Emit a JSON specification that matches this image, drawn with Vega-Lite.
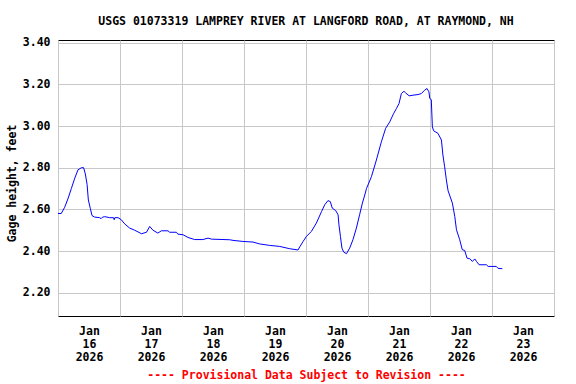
{
  "$schema": "https://vega.github.io/schema/vega-lite/v6.json",
  "width": 496,
  "height": 276,
  "autosize": "none",
  "padding": {"left": 58, "top": 40, "right": 22, "bottom": 68},
  "background": "white",
  "title": {
    "text": "USGS 01073319 LAMPREY RIVER AT LANGFORD ROAD, AT RAYMOND, NH",
    "font": "DejaVu Sans Mono",
    "fontSize": 11.5,
    "fontWeight": "bold",
    "color": "black",
    "anchor": "middle",
    "baseline": "bottom",
    "offset": 13,
    "dy": 15
  },
  "data": {
    "values": [
      {"t": "2026-01-16T00:00", "h": 2.58},
      {"t": "2026-01-16T01:15", "h": 2.58},
      {"t": "2026-01-16T02:35", "h": 2.61},
      {"t": "2026-01-16T03:50", "h": 2.65},
      {"t": "2026-01-16T05:10", "h": 2.70},
      {"t": "2026-01-16T06:30", "h": 2.75},
      {"t": "2026-01-16T07:45", "h": 2.79},
      {"t": "2026-01-16T09:05", "h": 2.80},
      {"t": "2026-01-16T09:55", "h": 2.80},
      {"t": "2026-01-16T10:35", "h": 2.77},
      {"t": "2026-01-16T11:15", "h": 2.72},
      {"t": "2026-01-16T11:45", "h": 2.645},
      {"t": "2026-01-16T12:30", "h": 2.605},
      {"t": "2026-01-16T13:10", "h": 2.57},
      {"t": "2026-01-16T14:10", "h": 2.563},
      {"t": "2026-01-16T16:10", "h": 2.56},
      {"t": "2026-01-16T16:40", "h": 2.555},
      {"t": "2026-01-16T17:10", "h": 2.562},
      {"t": "2026-01-16T18:05", "h": 2.565},
      {"t": "2026-01-16T20:00", "h": 2.56},
      {"t": "2026-01-16T21:30", "h": 2.56},
      {"t": "2026-01-16T21:45", "h": 2.55},
      {"t": "2026-01-16T22:00", "h": 2.56},
      {"t": "2026-01-16T23:15", "h": 2.56},
      {"t": "2026-01-17T00:30", "h": 2.55},
      {"t": "2026-01-17T01:50", "h": 2.53},
      {"t": "2026-01-17T03:45", "h": 2.51},
      {"t": "2026-01-17T05:40", "h": 2.50},
      {"t": "2026-01-17T08:20", "h": 2.483},
      {"t": "2026-01-17T10:15", "h": 2.49},
      {"t": "2026-01-17T11:30", "h": 2.518},
      {"t": "2026-01-17T12:45", "h": 2.50},
      {"t": "2026-01-17T14:40", "h": 2.486},
      {"t": "2026-01-17T16:00", "h": 2.497},
      {"t": "2026-01-17T18:35", "h": 2.497},
      {"t": "2026-01-17T19:15", "h": 2.49},
      {"t": "2026-01-17T21:50", "h": 2.49},
      {"t": "2026-01-17T22:25", "h": 2.481},
      {"t": "2026-01-18T00:25", "h": 2.478},
      {"t": "2026-01-18T02:20", "h": 2.465},
      {"t": "2026-01-18T04:55", "h": 2.455},
      {"t": "2026-01-18T08:05", "h": 2.455},
      {"t": "2026-01-18T10:05", "h": 2.462},
      {"t": "2026-01-18T11:25", "h": 2.457},
      {"t": "2026-01-18T18:30", "h": 2.454},
      {"t": "2026-01-18T19:45", "h": 2.451},
      {"t": "2026-01-18T23:35", "h": 2.446},
      {"t": "2026-01-19T03:30", "h": 2.443},
      {"t": "2026-01-19T06:05", "h": 2.434},
      {"t": "2026-01-19T09:55", "h": 2.427},
      {"t": "2026-01-19T13:50", "h": 2.422},
      {"t": "2026-01-19T17:40", "h": 2.411},
      {"t": "2026-01-19T20:55", "h": 2.405},
      {"t": "2026-01-19T21:35", "h": 2.42},
      {"t": "2026-01-19T22:50", "h": 2.445},
      {"t": "2026-01-20T00:10", "h": 2.47},
      {"t": "2026-01-20T02:05", "h": 2.494},
      {"t": "2026-01-20T04:00", "h": 2.534},
      {"t": "2026-01-20T06:00", "h": 2.589},
      {"t": "2026-01-20T07:15", "h": 2.622},
      {"t": "2026-01-20T08:30", "h": 2.642},
      {"t": "2026-01-20T09:25", "h": 2.637},
      {"t": "2026-01-20T10:10", "h": 2.606},
      {"t": "2026-01-20T11:30", "h": 2.594},
      {"t": "2026-01-20T12:25", "h": 2.574},
      {"t": "2026-01-20T12:45", "h": 2.526},
      {"t": "2026-01-20T13:20", "h": 2.47},
      {"t": "2026-01-20T13:55", "h": 2.414},
      {"t": "2026-01-20T14:35", "h": 2.395},
      {"t": "2026-01-20T15:40", "h": 2.387},
      {"t": "2026-01-20T16:55", "h": 2.414},
      {"t": "2026-01-20T18:10", "h": 2.454},
      {"t": "2026-01-20T19:30", "h": 2.51},
      {"t": "2026-01-20T20:45", "h": 2.574},
      {"t": "2026-01-20T21:50", "h": 2.63},
      {"t": "2026-01-20T22:45", "h": 2.669},
      {"t": "2026-01-20T23:25", "h": 2.70},
      {"t": "2026-01-21T01:20", "h": 2.757},
      {"t": "2026-01-21T03:15", "h": 2.837},
      {"t": "2026-01-21T05:10", "h": 2.924},
      {"t": "2026-01-21T06:50", "h": 2.989},
      {"t": "2026-01-21T08:25", "h": 3.02},
      {"t": "2026-01-21T09:55", "h": 3.06},
      {"t": "2026-01-21T11:00", "h": 3.084},
      {"t": "2026-01-21T12:00", "h": 3.108},
      {"t": "2026-01-21T12:55", "h": 3.156},
      {"t": "2026-01-21T13:55", "h": 3.167},
      {"t": "2026-01-21T14:35", "h": 3.159},
      {"t": "2026-01-21T15:55", "h": 3.145},
      {"t": "2026-01-21T17:25", "h": 3.148},
      {"t": "2026-01-21T19:20", "h": 3.151},
      {"t": "2026-01-21T20:40", "h": 3.156},
      {"t": "2026-01-21T21:55", "h": 3.172},
      {"t": "2026-01-21T22:50", "h": 3.18},
      {"t": "2026-01-21T23:35", "h": 3.164},
      {"t": "2026-01-21T23:55", "h": 3.132},
      {"t": "2026-01-22T00:30", "h": 3.127},
      {"t": "2026-01-22T00:55", "h": 2.996},
      {"t": "2026-01-22T01:25", "h": 2.977},
      {"t": "2026-01-22T03:05", "h": 2.965},
      {"t": "2026-01-22T04:25", "h": 2.933},
      {"t": "2026-01-22T05:00", "h": 2.861},
      {"t": "2026-01-22T05:40", "h": 2.805},
      {"t": "2026-01-22T06:20", "h": 2.741},
      {"t": "2026-01-22T07:00", "h": 2.689},
      {"t": "2026-01-22T08:40", "h": 2.63},
      {"t": "2026-01-22T09:35", "h": 2.566},
      {"t": "2026-01-22T10:15", "h": 2.502},
      {"t": "2026-01-22T11:30", "h": 2.454},
      {"t": "2026-01-22T12:30", "h": 2.406},
      {"t": "2026-01-22T13:25", "h": 2.403},
      {"t": "2026-01-22T14:20", "h": 2.366},
      {"t": "2026-01-22T15:25", "h": 2.363},
      {"t": "2026-01-22T16:25", "h": 2.35},
      {"t": "2026-01-22T17:20", "h": 2.362},
      {"t": "2026-01-22T18:00", "h": 2.35},
      {"t": "2026-01-22T19:00", "h": 2.334},
      {"t": "2026-01-22T21:50", "h": 2.334},
      {"t": "2026-01-22T22:30", "h": 2.326},
      {"t": "2026-01-23T01:40", "h": 2.326},
      {"t": "2026-01-23T02:20", "h": 2.317},
      {"t": "2026-01-23T04:00", "h": 2.315}
    ]
  },
  "mark": {"type": "line", "color": "#0000ff", "strokeWidth": 1, "clip": true},
  "encoding": {
    "x": {
      "field": "t",
      "type": "temporal",
      "scale": {
        "domain": [
          {"year": 2026, "month": 1, "date": 16},
          {"year": 2026, "month": 1, "date": 24}
        ]
      },
      "axis": {
        "values": [
          {"year": 2026, "month": 1, "date": 16},
          {"year": 2026, "month": 1, "date": 17},
          {"year": 2026, "month": 1, "date": 18},
          {"year": 2026, "month": 1, "date": 19},
          {"year": 2026, "month": 1, "date": 20},
          {"year": 2026, "month": 1, "date": 21},
          {"year": 2026, "month": 1, "date": 22},
          {"year": 2026, "month": 1, "date": 23},
          {"year": 2026, "month": 1, "date": 24}
        ],
        "labelExpr": "datum.value >= datetime(2026, 0, 24) ? '' : [timeFormat(datum.value, '%b'), timeFormat(datum.value, '%d'), timeFormat(datum.value, '%Y')]",
        "labelOffset": 31,
        "labelOverlap": false,
        "labelBound": false,
        "labelFlush": false,
        "labelBaseline": "top",
        "labelLineHeight": 13,
        "labelPadding": 9,
        "title": "---- Provisional Data Subject to Revision ----",
        "titleColor": "#ff0000",
        "titleY": 59,
        "titleBaseline": "middle"
      }
    },
    "y": {
      "field": "h",
      "type": "quantitative",
      "scale": {"domain": [2.088, 3.413], "nice": false, "zero": false},
      "axis": {
        "values": [2.2, 2.4, 2.6, 2.8, 3.0, 3.2, 3.4],
        "format": ".2f",
        "labelPadding": 8,
        "title": "Gage height, feet",
        "titleX": -46,
        "titleY": 143,
        "titleBaseline": "middle",
        "titleAlign": "center"
      }
    }
  },
  "config": {
    "view": {"stroke": "#000000", "strokeWidth": 1},
    "axis": {
      "domain": false,
      "ticks": false,
      "grid": true,
      "gridColor": "#c8c8c8",
      "gridOpacity": 1,
      "gridWidth": 1,
      "labelFont": "DejaVu Sans Mono",
      "labelFontSize": 11.5,
      "labelFontWeight": "bold",
      "labelColor": "#000000",
      "titleFont": "DejaVu Sans Mono",
      "titleFontSize": 11.5,
      "titleFontWeight": "bold",
      "titleColor": "#000000"
    }
  }
}
